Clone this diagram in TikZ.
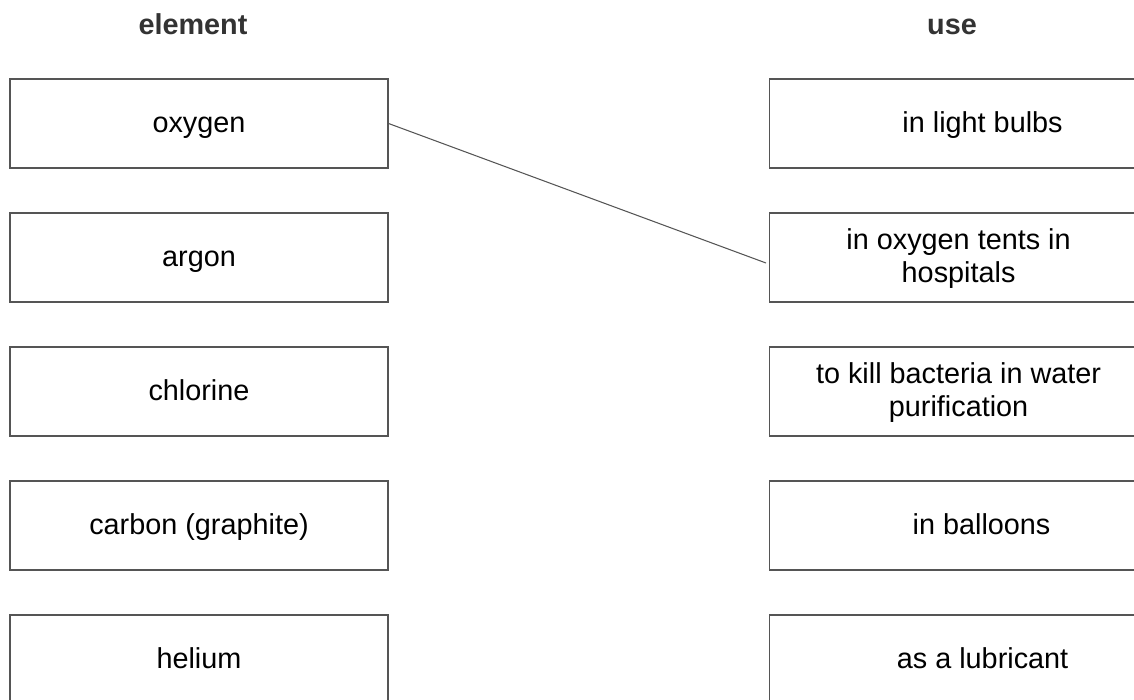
\documentclass[tikz,border=0pt]{standalone}
\usepackage{fontspec}
\setmainfont{Liberation Sans}
\usepackage{xcolor}
\usetikzlibrary{positioning}

\definecolor{headgray}{HTML}{333333}
\definecolor{boxgray}{HTML}{555555}

\begin{document}
\begin{tikzpicture}[x=0.02cm,y=-0.02cm,
                    elembox/.style={draw=boxgray,line width=0.7pt,minimum width=7.56cm,minimum height=1.78cm,inner sep=0pt,align=center,text height=13.1pt,text depth=3.4pt,font=\fontsize{16.4}{19.3}\selectfont},
                    usebox/.style={elembox,anchor=west},
                    twoline/.style={text height=32.4pt},
                    head/.style={font=\fontsize{16.4}{18}\selectfont\bfseries,text=headgray,text height=12.3pt,text depth=1pt}]
                    \useasboundingbox (0,0) rectangle (1134,700);
                    \clip (0,0) rectangle (1134,700);

                    \node[head] (h1) at (193,25) {element};
                    \node[head] (h2) at (952,25) {use};

                    % left column
                    \node[elembox] (oxygen) at (199,123.5) {oxygen};
                    \node[elembox] (argon) at (199,257.5) {argon};
                    \node[elembox] (chlorine) at (199,391.5) {chlorine};
                    \node[elembox] (carbon) at (199,525.5) {carbon (graphite)};
                    \node[elembox] (helium) at (199,659.5) {helium};

                    % right column
                    \node[usebox] (bulbs) at (769,123.5) {\hspace*{0.96cm}in light bulbs};
                    \node[usebox,twoline] (tents) at (769,257.5) {in oxygen tents in\\hospitals};
                    \node[usebox,twoline] (water) at (769,391.5) {to kill bacteria in water\\purification};
                    \node[usebox] (balloons) at (769,525.5) {\hspace*{0.92cm}in balloons};
                    \node[usebox] (lubricant) at (769,659.5) {\hspace*{0.96cm}as a lubricant};

                    \draw[boxgray,line width=0.6pt] (oxygen.east) -- ([shift={(-3,5.5)}]tents.west);
                \end{tikzpicture}
\end{document}
